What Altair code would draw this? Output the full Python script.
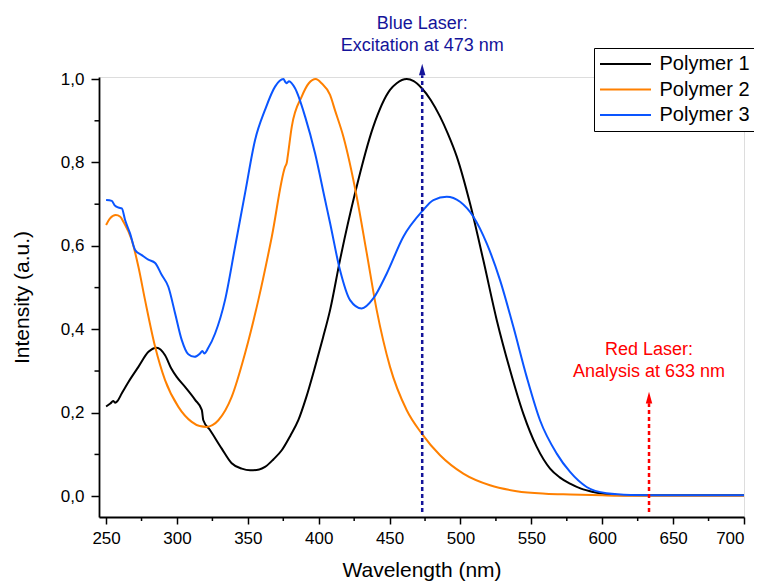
import altair as alt
import pandas as pd

FONT = "Liberation Sans"

# ---------------- data ----------------
series_names = ["Polymer 1", "Polymer 2", "Polymer 3"]
series_colors = ["#000000", "#ff8000", "#0a55ff"]

p1_wl = [250, 253, 255, 256.5, 258, 261, 266, 272.8, 279.9, 285.7, 291.6, 296, 299.8, 305.7,
         312.8, 317.5, 318.6, 323.4, 331.6, 338.6, 345.7, 351.6, 358, 362.1, 368, 373.9, 380,
         385.6, 391, 397.4, 403, 408, 415, 425.6, 438.5, 450.3, 455, 462.1, 467, 472.7, 479,
         485.6, 491, 497.4, 506.7, 516.1, 525.6, 535, 544.3, 553.8, 563.2, 570, 577.3, 585,
         593.7, 602, 610, 620, 640, 660, 680, 700]
p1_val = [0.215, 0.222, 0.228, 0.224, 0.228, 0.246, 0.275, 0.31, 0.346, 0.356, 0.338, 0.306,
          0.286, 0.262, 0.231, 0.207, 0.182, 0.158, 0.114, 0.079, 0.066, 0.062, 0.064, 0.07,
          0.088, 0.11, 0.145, 0.182, 0.235, 0.31, 0.38, 0.446, 0.566, 0.726, 0.886, 0.974,
          0.99, 1.0, 0.995, 0.978, 0.95, 0.91, 0.87, 0.814, 0.702, 0.566, 0.422, 0.302, 0.198,
          0.118, 0.066, 0.045, 0.030, 0.018, 0.01, 0.005, 0.003, 0.002, 0.002, 0.002, 0.002,
          0.002]

p2_wl = [250, 252.8, 256.8, 260, 262.2, 268.1, 272.8, 277.5, 284.6, 291.6, 301, 310.4, 316,
         321, 325, 329.2, 338.6, 348, 357.4, 366.9, 376.3, 377.5, 378.1, 381, 388, 393, 397.9,
         402, 408, 411.5, 417.4, 426.8, 433.9, 440.9, 450.3, 462.1, 472.7, 485.6, 502, 520.8,
         539.6, 560, 577.3, 600, 620, 650, 700]
p2_val = [0.650, 0.666, 0.674, 0.670, 0.658, 0.614, 0.55, 0.47, 0.358, 0.278, 0.214, 0.178,
          0.168, 0.166, 0.170, 0.182, 0.238, 0.342, 0.47, 0.622, 0.79, 0.80, 0.814, 0.886,
          0.958, 0.99, 1.0, 0.99, 0.962, 0.925, 0.862, 0.718, 0.582, 0.446, 0.31, 0.206, 0.150,
          0.098, 0.054, 0.026, 0.012, 0.006, 0.004, 0.002, 0.001, 0.001, 0.001]

p3_wl = [250, 254, 255.9, 258.7, 261.1, 263.4, 266.9, 270.5, 275.2, 279.8, 284.6, 289.3, 293.9,
         298.7, 303.4, 308, 312.3, 316.3, 317.9, 319.3, 322, 326.9, 333.9, 341, 348, 355.1,
         362.1, 369.2, 375.1, 376.5, 377.4, 379.1, 383.3, 390.4, 397.4, 404.5, 408, 415, 422.1,
         430.3, 438.5, 448, 459.7, 472.7, 480.9, 490.3, 499.7, 509.1, 518.5, 527.9, 537.3,
         546.7, 556.1, 567.9, 577.3, 589, 603, 620, 650, 700]
p3_val = [0.710, 0.708, 0.698, 0.692, 0.690, 0.662, 0.630, 0.590, 0.578, 0.567, 0.559, 0.530,
          0.502, 0.438, 0.374, 0.340, 0.334, 0.342, 0.348, 0.342, 0.355, 0.390, 0.470, 0.598,
          0.726, 0.854, 0.926, 0.982, 1.0, 0.993, 0.99, 0.995, 0.978, 0.91, 0.822, 0.71, 0.655,
          0.542, 0.470, 0.450, 0.474, 0.534, 0.622, 0.682, 0.710, 0.718, 0.706, 0.670, 0.606,
          0.518, 0.406, 0.286, 0.182, 0.102, 0.058, 0.022, 0.007, 0.003, 0.002, 0.002]

x_ticks = [250, 300, 350, 400, 450, 500, 550, 600, 650, 700]
x_minor = [275, 325, 375, 425, 475, 525, 575, 625, 675]
y_ticks = [0.0, 0.2, 0.4, 0.6, 0.8, 1.0]
y_minor = [0.1, 0.3, 0.5, 0.7, 0.9]

laser_wl = [473, 633]
laser_color = ["#14149a", "#ff0000"]
laser_bottom = [-0.038, -0.038]
laser_top = [1.009, 0.223]
arrow_center = [1.023, 0.236]
label_lines = [["Blue Laser:", "Excitation at 473 nm"], ["Red Laser:", "Analysis at 633 nm"]]
label_y = [[1.133, 1.080], [0.350, 0.297]]

# ---------------- tables ----------------
rows = []
for name, wl, val in zip(series_names, [p1_wl, p2_wl, p3_wl], [p1_val, p2_val, p3_val]):
    for w, v in zip(wl, val):
        rows.append({"wavelength": w, "intensity": v, "series": name})
df = pd.DataFrame(rows)

laser_df = pd.DataFrame({"wl": laser_wl, "y0": laser_bottom, "y1": laser_top,
                         "ya": arrow_center, "color": laser_color})
text_rows = []
for wl, col, lines, ys in zip(laser_wl, laser_color, label_lines, label_y):
    for t, y in zip(lines, ys):
        text_rows.append({"wl": wl, "y": y, "text": t, "color": col})
text_df = pd.DataFrame(text_rows)

xminor_df = pd.DataFrame({"v": x_minor})
yminor_df = pd.DataFrame({"v": y_minor})

W, H = 645, 440
xscale = alt.Scale(domain=[245, 700], nice=False, zero=False)
yscale = alt.Scale(domain=[-0.05, 1.005], nice=False, zero=False)

lines = alt.Chart(df).mark_line(strokeWidth=2, interpolate="monotone").encode(
    x=alt.X("wavelength:Q", scale=xscale,
            axis=alt.Axis(values=x_ticks, title="Wavelength (nm)", format="d",
                          labelFontSize=17, titleFontSize=21, labelFont=FONT, titleFont=FONT,
                          labelColor="black", titleColor="black", titleFontWeight="normal",
                          tickSize=7, tickWidth=1.5, domainWidth=1.8, domainColor="black",
                          tickColor="black", grid=False, labelPadding=6, titlePadding=13)),
    y=alt.Y("intensity:Q", scale=yscale,
            axis=alt.Axis(values=y_ticks, title="Intensity (a.u.)",
                          labelExpr="replace(format(datum.value, '.1f'), '.', ',')",
                          labelFontSize=17, titleFontSize=21, labelFont=FONT, titleFont=FONT,
                          labelColor="black", titleColor="black", titleFontWeight="normal",
                          tickSize=8, tickWidth=1.5, domainWidth=1.8, domainColor="black",
                          tickColor="black", grid=False, labelPadding=7, titlePadding=28)),
    color=alt.Color("series:N",
                    scale=alt.Scale(domain=series_names, range=series_colors),
                    legend=alt.Legend(title=None, orient="none", legendX=495, legendY=-29,
                                      symbolType="M-5,0H5", symbolSize=104,
                                      symbolStrokeWidth=2, symbolOffset=15.5,
                                      labelFontSize=20, labelFont=FONT,
                                      labelColor="black", labelOffset=24,
                                      strokeColor="black", fillColor="white", padding=6,
                                      cornerRadius=0, rowPadding=5.5)),
    order=alt.Order("wavelength:Q"),
)

xminor = alt.Chart(xminor_df).mark_rule(color="black", strokeWidth=1.5).encode(
    x=alt.X("v:Q", scale=xscale), y=alt.value(H), y2=alt.value(H + 4))
yminor = alt.Chart(yminor_df).mark_rule(color="black", strokeWidth=1.5).encode(
    y=alt.Y("v:Q", scale=yscale), x=alt.value(-4.5), x2=alt.value(0))

laser_rules = alt.Chart(laser_df).mark_rule(strokeWidth=2.5, strokeDash=[4, 3]).encode(
    x=alt.X("wl:Q", scale=xscale), y=alt.Y("y0:Q", scale=yscale), y2="y1:Q",
    color=alt.Color("color:N", scale=None))

arrows = alt.Chart(laser_df).mark_point(shape="M0,-1L0.55,1L-0.55,1Z", filled=True,
                                        size=137, opacity=1).encode(
    x=alt.X("wl:Q", scale=xscale), y=alt.Y("ya:Q", scale=yscale),
    color=alt.Color("color:N", scale=None))

texts = alt.Chart(text_df).mark_text(fontSize=18, font=FONT, align="center",
                                     baseline="middle").encode(
    x=alt.X("wl:Q", scale=xscale), y=alt.Y("y:Q", scale=yscale),
    text="text:N", color=alt.Color("color:N", scale=None))

chart = alt.layer(lines, xminor, yminor, laser_rules, arrows, texts).properties(
    width=W, height=H,
    autosize=alt.AutoSizeParams(type="none"),
    padding={"left": 91, "top": 69, "right": 10, "bottom": 67},
).configure_view(stroke=None).configure(background="white")

chart.save("out.html", embed_options={"renderer": "svg", "actions": False})
